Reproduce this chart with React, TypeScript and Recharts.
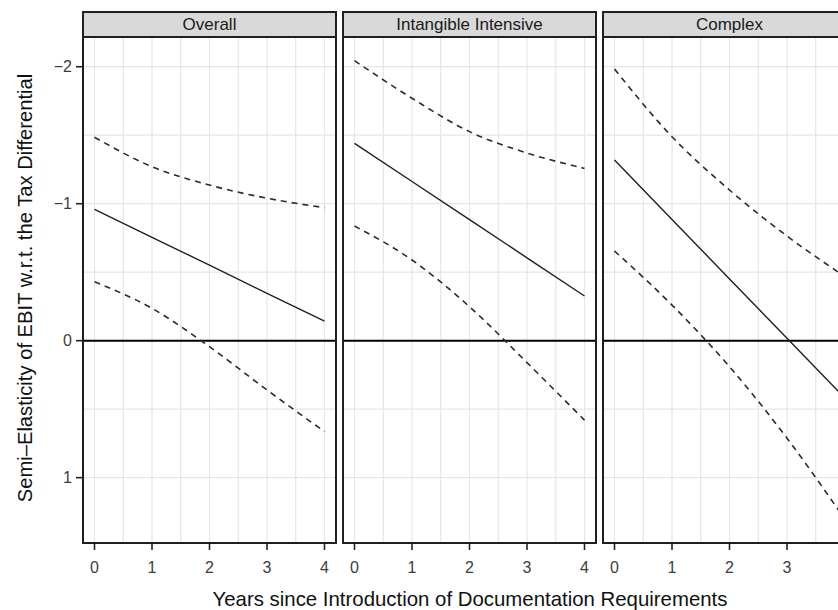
import { LineChart, Line, XAxis, YAxis, CartesianGrid, ReferenceLine } from "recharts";

// years since introduction
const years = [0, 1, 2, 3, 4];
const facets = ["Overall", "Intangible Intensive", "Complex"];

// point estimate and 95% bounds (lo = numerically lower, drawn on top since the axis is reversed)
const overallEst = [-0.959, -0.755, -0.551, -0.346, -0.142];
const overallLo = [-1.485, -1.27, -1.136, -1.04, -0.971];
const overallHi = [-0.43, -0.236, 0.044, 0.36, 0.664];

const intangibleEst = [-1.441, -1.162, -0.884, -0.605, -0.326];
const intangibleLo = [-2.044, -1.77, -1.526, -1.37, -1.258];
const intangibleHi = [-0.837, -0.589, -0.248, 0.16, 0.58];

const complexEst = [-1.319, -0.885, -0.451, -0.017, 0.417];
const complexLo = [-1.983, -1.489, -1.1, -0.764, -0.47];
const complexHi = [-0.655, -0.26, 0.19, 0.712, 1.3];

const xTicks = [0, 1, 2, 3, 4];
// last panel runs off the right edge, its "4" is not shown
const xTicksCut = [0, 1, 2, 3];
const yTicks = [-2, -1, 0, 1];
const gridX = [0, 0.5, 1, 1.5, 2, 2.5, 3, 3.5, 4];
const gridY = [-2, -1.5, -1, -0.5, 0, 0.5, 1];

const series = [
  [overallEst, overallLo, overallHi],
  [intangibleEst, intangibleLo, intangibleHi],
  [complexEst, complexLo, complexHi],
];

const PANEL_LEFT = [83, 343, 603];
const PANEL_W = 253;
const PANEL_TOP = 37;
const PANEL_H = 506;
const STRIP_TOP = 12;
const AXIS_W = 83;

const FONT = '"Liberation Sans", Arial, Helvetica, sans-serif';

const fmt = (v: number) => (v < 0 ? "\u2212" + Math.abs(v) : String(v));

function Panel({ idx }: { idx: number }) {
  const [est, lo, hi] = series[idx];
  const data = years.map((x, i) => ({ x, est: est[i], lo: lo[i], hi: hi[i] }));
  const first = idx === 0;
  const left = first ? 0 : PANEL_LEFT[idx];
  const width = first ? AXIS_W + PANEL_W : PANEL_W;

  return (
    <div style={{ position: "absolute", left, top: PANEL_TOP }}>
      <LineChart width={width} height={PANEL_H + 50} data={data} margin={{ top: 0, right: 0, left: 0, bottom: 0 }}>
        <CartesianGrid
          stroke="#e6e6e6"
          strokeWidth={1.2}
          horizontalValues={gridY}
          verticalValues={gridX}
        />
        <XAxis
          dataKey="x"
          type="number"
          domain={[-0.2, 4.2]}
          ticks={idx === 2 ? xTicksCut : xTicks}
          allowDataOverflow
          height={50}
          axisLine={false}
          tickSize={7}
          tickMargin={12}
          tickLine={{ stroke: "#222", strokeWidth: 1.6 }}
          tick={{ fill: "#3d3d3d", fontSize: 16 }}
        />
        <YAxis
          type="number"
          domain={[-2.217, 1.477]}
          reversed
          allowDataOverflow
          ticks={yTicks}
          hide={!first}
          width={AXIS_W}
          axisLine={false}
          tickSize={7}
          tickMargin={4}
          tickFormatter={fmt}
          tickLine={{ stroke: "#222", strokeWidth: 1.6 }}
          tick={{ fill: "#3d3d3d", fontSize: 16 }}
        />
        <ReferenceLine y={0} stroke="#000" strokeWidth={2} />
        <Line type="monotone" dataKey="lo" stroke="#2b2b2b" strokeWidth={1.6} strokeDasharray="6 5" dot={false} isAnimationActive={false} />
        <Line type="monotone" dataKey="hi" stroke="#2b2b2b" strokeWidth={1.6} strokeDasharray="6 5" dot={false} isAnimationActive={false} />
        <Line type="linear" dataKey="est" stroke="#1f1f1f" strokeWidth={1.4} dot={false} isAnimationActive={false} />
      </LineChart>
    </div>
  );
}

export default function App() {
  return (
    <div
      style={{
        position: "absolute",
        left: 0,
        top: 0,
        width: 838,
        height: 610,
        overflow: "hidden",
        background: "#fff",
        fontFamily: FONT,
      }}
    >
      {facets.map((f, i) => (
        <Panel key={f} idx={i} />
      ))}
      {facets.map((f, i) => (
        <div key={"frame" + f}>
          <div
            style={{
              position: "absolute",
              left: PANEL_LEFT[i] - 1,
              top: PANEL_TOP - 1,
              width: PANEL_W + 2,
              height: PANEL_H + 2,
              boxSizing: "border-box",
              border: "2px solid #1f1f1f",
              pointerEvents: "none",
            }}
          />
          <div
            style={{
              position: "absolute",
              left: PANEL_LEFT[i] - 1,
              top: STRIP_TOP - 1,
              width: PANEL_W + 2,
              height: PANEL_TOP - STRIP_TOP + 2,
              boxSizing: "border-box",
              border: "2px solid #1f1f1f",
              background: "#d9d9d9",
              color: "#1a1a1a",
              fontSize: 17,
              lineHeight: "23px",
              textAlign: "center",
              whiteSpace: "nowrap",
            }}
          >
            {f}
          </div>
        </div>
      ))}
      <div
        style={{
          position: "absolute",
          left: 470,
          top: 599,
          transform: "translate(-50%, -50%)",
          fontSize: 20.4,
          color: "#111",
          whiteSpace: "nowrap",
        }}
      >
        Years since Introduction of Documentation Requirements
      </div>
      <div
        style={{
          position: "absolute",
          left: 25,
          top: 288,
          transform: "translate(-50%, -50%) rotate(-90deg)",
          fontSize: 20.2,
          color: "#111",
          whiteSpace: "nowrap",
        }}
      >
        Semi–Elasticity of EBIT w.r.t. the Tax Differential
      </div>
    </div>
  );
}
